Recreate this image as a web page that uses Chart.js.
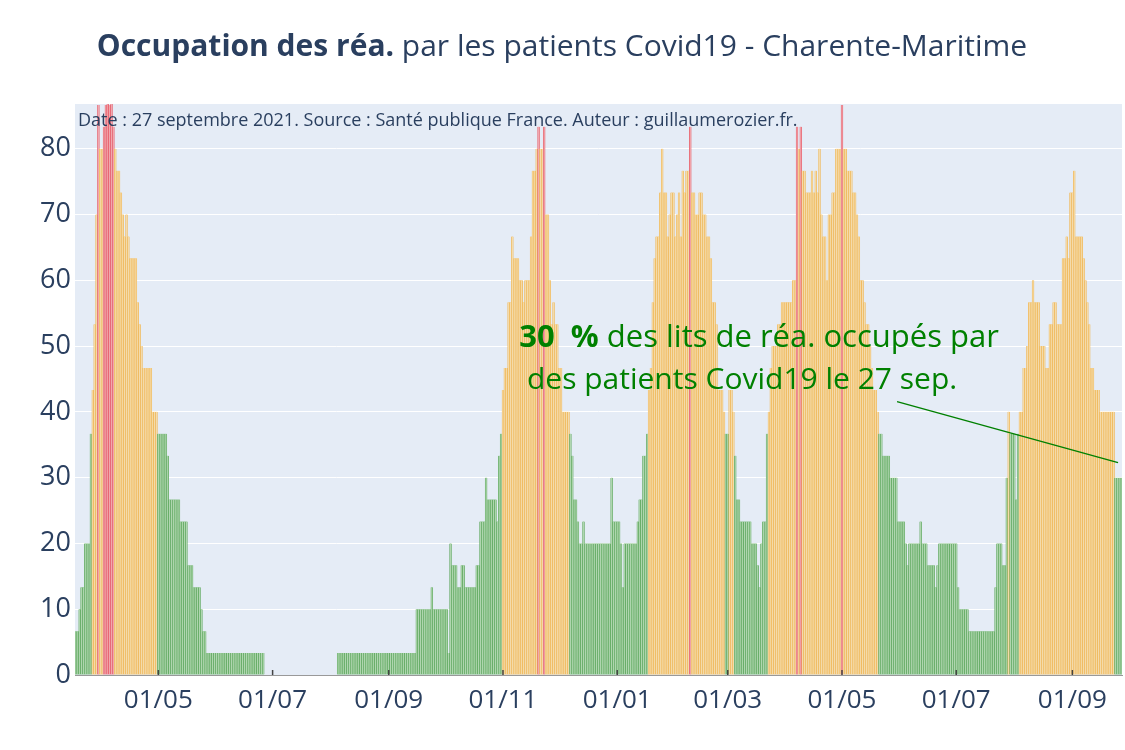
<!DOCTYPE html>
<html lang="fr">
<head>
<meta charset="utf-8">
<title>Occupation des réa. - Charente-Maritime</title>
<script src="https://cdn.jsdelivr.net/npm/chart.js@4.4.0/dist/chart.umd.min.js"></script>
<style>
  html, body { margin: 0; padding: 0; background: #fff; }
  #wrap { width: 1125px; height: 750px; }
</style>
</head>
<body>
<div id="wrap"><canvas id="reaChart" width="1125" height="750"></canvas></div>
<script>
// Lits de réa. occupés par des patients Covid19 (capacité : 30 lits), un chiffre par jour
const capaciteLits = 30;
const premierJour = new Date(2020, 2, 18);

const mars2020 = [2, 2, 3, 4, 4, 6, 6, 6, 11, 13, 16, 21, 26, 24];
const avril2020 = [24, 25, 26, 27, 26, 27, 25, 24, 23, 23, 22, 21, 20, 21, 20, 19, 19, 19, 19, 17,
    16, 15, 14, 14, 14, 14, 14, 12, 12, 12];
const mai2020 = [11, 11, 11, 11, 11, 10, 8, 8, 8, 8, 8, 8, 7, 7, 7, 7, 5, 5, 5, 4,
    4, 4, 4, 3, 2, 2, 1, 1, 1, 1, 1];
const juin2020 = [1, 1, 1, 1, 1, 1, 1, 1, 1, 1, 1, 1, 1, 1, 1, 1, 1, 1, 1, 1,
    1, 1, 1, 1, 1, 1, 0, 0, 0, 0];
const juillet2020 = [0, 0, 0, 0, 0, 0, 0, 0, 0, 0, 0, 0, 0, 0, 0, 0, 0, 0, 0, 0,
    0, 0, 0, 0, 0, 0, 0, 0, 0, 0, 0];
const aout2020 = [0, 0, 0, 0, 1, 1, 1, 1, 1, 1, 1, 1, 1, 1, 1, 1, 1, 1, 1, 1,
    1, 1, 1, 1, 1, 1, 1, 1, 1, 1, 1];
const septembre2020 = [1, 1, 1, 1, 1, 1, 1, 1, 1, 1, 1, 1, 1, 1, 1, 3, 3, 3, 3, 3,
    3, 3, 3, 4, 3, 3, 3, 3, 3, 3];
const octobre2020 = [3, 3, 1, 6, 5, 5, 5, 4, 4, 5, 5, 4, 4, 4, 4, 4, 4, 5, 5, 7,
    7, 7, 9, 8, 8, 8, 8, 8, 7, 10, 11];
const novembre2020 = [13, 14, 14, 17, 17, 20, 19, 19, 19, 18, 18, 17, 18, 18, 18, 20, 23, 23, 24, 25,
    24, 24, 25, 21, 21, 18, 16, 17, 16, 16];
const decembre2020 = [14, 14, 12, 12, 12, 12, 11, 10, 8, 8, 7, 6, 6, 7, 6, 6, 6, 6, 6, 6,
    6, 6, 6, 6, 6, 6, 6, 6, 9, 7, 7];
const janvier2021 = [7, 7, 6, 4, 6, 6, 6, 6, 6, 6, 6, 7, 8, 8, 10, 10, 11, 13, 14, 17,
    19, 20, 20, 22, 24, 22, 22, 20, 21, 22, 22];
const fevrier2021 = [20, 21, 22, 20, 23, 22, 23, 23, 25, 22, 22, 21, 21, 22, 22, 21, 21, 20, 20, 19,
    17, 17, 16, 13, 13, 13, 12, 11];
const mars2021 = [11, 13, 13, 12, 10, 8, 8, 7, 7, 7, 7, 7, 7, 6, 6, 6, 5, 4, 6, 7,
    7, 11, 12, 14, 15, 15, 15, 16, 16, 17, 17];
const avril2021 = [17, 17, 17, 17, 18, 18, 25, 24, 25, 23, 23, 22, 22, 22, 23, 22, 23, 22, 24, 21,
    20, 20, 18, 21, 21, 22, 22, 24, 24, 24];
const mai2021 = [26, 24, 24, 23, 23, 23, 22, 22, 21, 20, 18, 18, 17, 16, 16, 15, 14, 13, 13, 12,
    11, 11, 10, 10, 10, 10, 9, 9, 9, 9, 7];
const juin2021 = [7, 7, 7, 6, 5, 6, 6, 6, 6, 6, 6, 7, 6, 6, 6, 5, 5, 5, 5, 4,
    5, 6, 6, 6, 6, 6, 6, 6, 6, 6];
const juillet2021 = [6, 4, 3, 3, 3, 3, 3, 2, 2, 2, 2, 2, 2, 2, 2, 2, 2, 2, 2, 2,
    2, 4, 6, 6, 6, 5, 5, 9, 12, 11, 11];
const aout2021 = [11, 8, 11, 12, 12, 14, 14, 15, 17, 17, 18, 17, 17, 17, 15, 15, 15, 14, 14, 16,
    16, 17, 17, 16, 16, 16, 19, 19, 20, 19, 22];
const septembre2021 = [22, 23, 20, 20, 20, 20, 19, 18, 17, 16, 14, 14, 13, 13, 13, 12, 12, 12, 12, 12,
    12, 12, 12, 9, 9, 9, 9];

const moisTicks = ['01/05', '01/07', '01/09', '01/11', '01/01', '01/03'];
const yTicks = [0, 10, 20, 30, 40, 50, 60, 70, 80];

const lits = [].concat(mars2020, avril2020, mai2020, juin2020, juillet2020, aout2020,
    septembre2020, octobre2020, novembre2020, decembre2020, janvier2021, fevrier2021,
    mars2021, avril2021, mai2021, juin2021, juillet2021, aout2021, septembre2021);
const taux = lits.map(n => n / capaciteLits * 100);

// Dates au format JJ/MM
const labels = lits.map((_, i) => {
    const d = new Date(premierJour);
    d.setDate(d.getDate() + i);
    return String(d.getDate()).padStart(2, '0') + '/' + String(d.getMonth() + 1).padStart(2, '0');
});

const FONT = '"Open Sans", verdana, arial, sans-serif';
const TXT = '#2a3f5f';

function couleurFond(v) {
    if (v > 80) return '#f1a7ae';
    if (v >= 40) return '#f4dbab';
    return '#afd6af';
}
function couleurBord(v) {
    if (v > 80) return '#e4525f';
    if (v >= 40) return '#efb24a';
    return '#52a152';
}

const decor = {
    id: 'decor',
    beforeDraw(chart) {
        const { ctx, chartArea: a } = chart;
        ctx.save();
        ctx.fillStyle = '#e5ecf6';
        ctx.fillRect(a.left, a.top, a.right - a.left, a.bottom - a.top);
        ctx.restore();
    },
    afterDatasetsDraw(chart) {
        const { ctx, chartArea: a, scales } = chart;
        ctx.save();

        // petits traits de graduation sur l'axe des dates
        ctx.strokeStyle = '#444';
        ctx.lineWidth = 1.5;
        scales.x.ticks.forEach((t, i) => {
            if (!t.label) return;
            const x = scales.x.getPixelForTick(i);
            ctx.beginPath();
            ctx.moveTo(x, a.bottom);
            ctx.lineTo(x, a.bottom - 5);
            ctx.stroke();
        });

        // titre
        ctx.textBaseline = 'middle';
        ctx.fillStyle = TXT;
        const gras = 'Occupation des réa.';
        const reste = ' par les patients Covid19 - Charente-Maritime';
        ctx.font = 'bold 30px ' + FONT;
        const w1 = ctx.measureText(gras).width;
        ctx.font = '30px ' + FONT;
        const w2 = ctx.measureText(reste).width;
        let x0 = 562 - (w1 + w2) / 2;
        ctx.textAlign = 'left';
        ctx.font = 'bold 30px ' + FONT;
        ctx.fillText(gras, x0, 47);
        ctx.font = '30px ' + FONT;
        ctx.fillText(reste, x0 + w1, 47);

        // source
        ctx.font = '18px ' + FONT;
        ctx.fillText('Date : 27 septembre 2021. Source : Santé publique France. Auteur : guillaumerozier.fr.', a.left + 3, a.top + 17);

        // annotation dernière valeur
        const last = taux.length - 1;
        const hx = scales.x.getPixelForValue(last) - 3;
        const hy = scales.y.getPixelForValue(taux[last]) - 15;
        ctx.strokeStyle = 'green';
        ctx.lineWidth = 1.5;
        ctx.beginPath();
        ctx.moveTo(hx - 221, hy - 61);
        ctx.lineTo(hx, hy);
        ctx.stroke();

        ctx.fillStyle = 'green';
        const p1 = Math.round(taux[last]) + '  %';
        const p2 = ' des lits de réa. occupés par';
        ctx.font = 'bold 31px ' + FONT;
        const a1 = ctx.measureText(p1).width;
        ctx.font = '31px ' + FONT;
        const a2 = ctx.measureText(p2).width;
        const cx1 = hx - 359 - (a1 + a2) / 2;
        ctx.font = 'bold 31px ' + FONT;
        ctx.fillText(p1, cx1, hy - 124);
        ctx.font = '31px ' + FONT;
        ctx.fillText(p2, cx1 + a1, hy - 124);
        ctx.font = '30px ' + FONT;
        ctx.textAlign = 'center';
        ctx.fillText('des patients Covid19 le 27 sep.', hx - 376, hy - 82);
        ctx.restore();
    }
};

new Chart(document.getElementById('reaChart'), {
    type: 'bar',
    data: {
        labels: labels,
        datasets: [{
            data: taux,
            backgroundColor: taux.map(couleurFond),
            borderColor: taux.map(couleurBord),
            borderWidth: { left: 0.6, right: 0.6, top: 0, bottom: 0 },
            borderSkipped: false,
            barPercentage: 1,
            categoryPercentage: 1
        }]
    },
    options: {
        responsive: false,
        animation: false,
        layout: { padding: { top: 104, right: 3, left: 0, bottom: 0 } },
        plugins: {
            legend: { display: false },
            tooltip: { enabled: false }
        },
        scales: {
            x: {
                offset: true,
                grid: { display: false, drawTicks: false },
                border: { display: true, color: 'rgba(110,110,110,0.7)', width: 1 },
                ticks: {
                    autoSkip: false,
                    maxRotation: 0,
                    padding: 10,
                    color: TXT,
                    font: { family: FONT, size: 26 },
                    callback: function(val, i) {
                        const lab = labels[i];
                        if (moisTicks.includes(lab)) return lab;
                        return null;
                    }
                },
                afterFit(scale) { scale.height = 75; }
            },
            y: {
                min: 0,
                max: 86.8,
                afterBuildTicks(scale) { scale.ticks = yTicks.map(v => ({ value: v })); },
                grid: { color: '#ffffff', lineWidth: 1, drawTicks: false },
                border: { display: false },
                ticks: {
                    padding: 4,
                    color: TXT,
                    font: { family: FONT, size: 27 }
                },
                afterFit(scale) { scale.width = 75; }
            }
        }
    },
    plugins: [decor]
});
</script>
</body>
</html>
